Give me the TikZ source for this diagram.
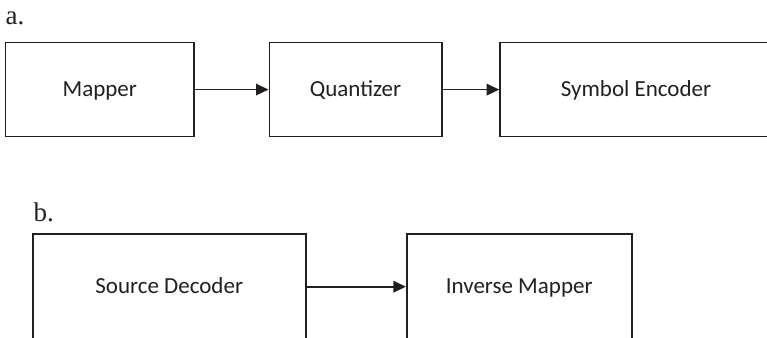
\documentclass[tikz,border=0pt]{standalone}
\usepackage{fontspec}
\setmainfont{Carlito}
\newfontfamily\labelfont{Liberation Serif}
\usetikzlibrary{arrows.meta}
\definecolor{ink}{HTML}{231F20}
\begin{document}
\begin{tikzpicture}[x=1pt,y=-1pt,
  blockbox/.style={draw=ink,line width=1.6pt,rectangle,inner sep=0pt,
    text=ink,font=\fontsize{23}{26}\selectfont,text height=19.3pt,text depth=5.3pt},
  flow/.style={draw=ink,line width=1.6pt,-{Triangle[length=12.5pt,width=11.5pt]}},
  partlabel/.style={anchor=base west,inner sep=0pt,text=ink,font=\labelfont\fontsize{27}{30}\selectfont}]
\useasboundingbox (0,0) rectangle (767,337);
\node[partlabel] (la) at (5.5,25) {a.};
\node[blockbox,minimum width=188.5pt,minimum height=93.8pt] (map) at (99.75,89.6) {Mapper};
\node[blockbox,minimum width=172.4pt,minimum height=93.8pt] (quant) at (355.5,89.6) {Quantizer};
\node[blockbox,minimum width=272pt,minimum height=93.8pt] (senc) at (636,89.6) {Symbol Encoder};
\draw[flow] (map.east) -- (quant.west);
\draw[flow] (quant.east) -- (senc.west);
\node[partlabel] (lb) at (33.3,221.7) {b.};
\node[blockbox,minimum width=273pt,minimum height=105.4pt] (sdec) at (169.2,286.7) {Source Decoder};
\node[blockbox,minimum width=225pt,minimum height=105.4pt] (imap) at (519.2,286.7) {Inverse Mapper};
\draw[flow] (sdec.east) -- (imap.west);
\end{tikzpicture}
\end{document}
